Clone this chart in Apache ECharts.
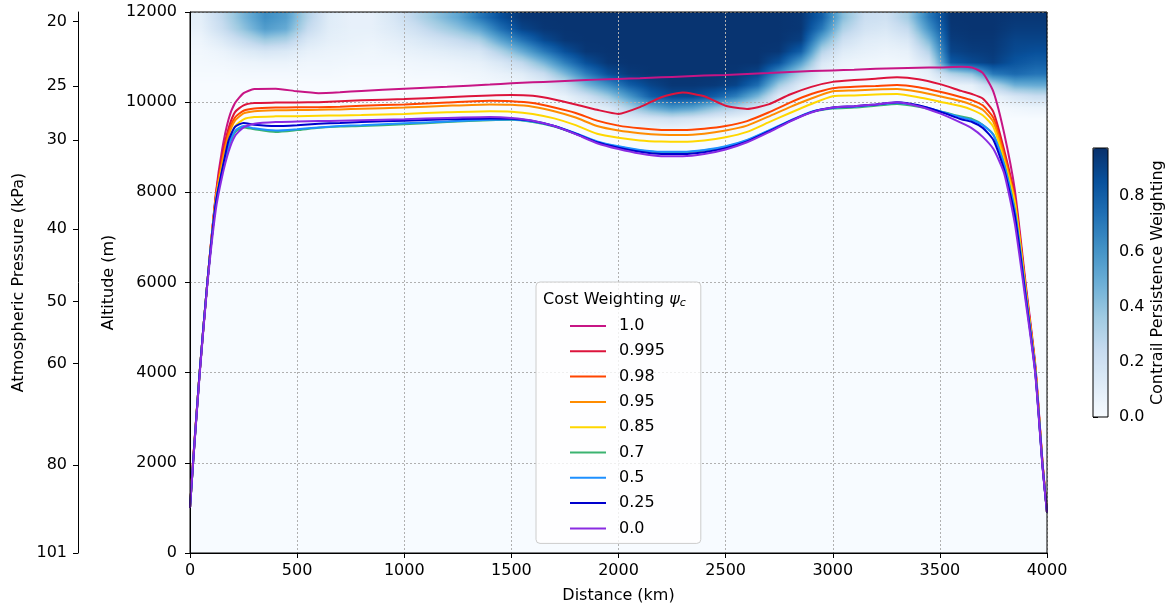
<!DOCTYPE html>
<html>
<head>
<meta charset="utf-8">
<script src="https://cdn.jsdelivr.net/npm/echarts@6/dist/echarts.min.js"></script>
<style>
  html, body { margin: 0; padding: 0; background: #fff; }
  #chart { width: 1174px; height: 610px; }
</style>
</head>
<body>
<div id="chart"></div>
<script>
// ── Flight profiles (altitude in m against distance in km) ──
const distanceKm = [0, 15, 45, 80, 120, 150, 180, 210, 250, 300, 400, 500, 600, 700, 800, 1000, 1200, 1400, 1500, 1600, 1700, 1800, 1900, 2000, 2100, 2200, 2300, 2400, 2500, 2600, 2700, 2800, 2900, 3000, 3100, 3200, 3300, 3400, 3500, 3600, 3650, 3700, 3750, 3800, 3850, 3900, 3945, 3980, 4000];

const alt_1_0 = [1000, 2100, 4000, 5950, 7950, 8950, 9620, 9980, 10200, 10290, 10300, 10240, 10200, 10220, 10250, 10300, 10340, 10390, 10420, 10440, 10460, 10480, 10500, 10515, 10530, 10550, 10570, 10590, 10605, 10625, 10645, 10670, 10690, 10705, 10720, 10740, 10755, 10765, 10770, 10785, 10770, 10650, 10230, 9310, 8050, 6000, 4200, 1960, 900];
const alt_0_995 = [1000, 2080, 4000, 5950, 7900, 8800, 9420, 9780, 9930, 9980, 9990, 9995, 10000, 10020, 10040, 10070, 10110, 10150, 10160, 10140, 10060, 9950, 9830, 9740, 9890, 10110, 10215, 10130, 9920, 9850, 9950, 10170, 10340, 10450, 10490, 10520, 10550, 10510, 10400, 10250, 10180, 10080, 9780, 8940, 7900, 5920, 4150, 1940, 900];
const alt_0_98 = [1000, 2070, 4000, 5950, 7870, 8720, 9330, 9660, 9810, 9860, 9880, 9885, 9890, 9900, 9920, 9950, 9990, 10030, 10020, 9980, 9880, 9760, 9590, 9480, 9420, 9385, 9380, 9410, 9470, 9580, 9770, 9990, 10180, 10310, 10340, 10360, 10380, 10330, 10230, 10110, 10040, 9930, 9650, 8850, 7850, 5880, 4120, 1930, 900];
const alt_0_95 = [1000, 2060, 4000, 5950, 7850, 8660, 9260, 9590, 9750, 9800, 9820, 9825, 9830, 9840, 9855, 9880, 9920, 9950, 9940, 9900, 9800, 9660, 9470, 9370, 9310, 9275, 9270, 9300, 9370, 9480, 9680, 9890, 10080, 10240, 10260, 10280, 10290, 10230, 10130, 10020, 9940, 9830, 9560, 8780, 7800, 5860, 4110, 1920, 900];
const alt_0_85 = [1000, 2050, 4000, 5950, 7800, 8550, 9120, 9460, 9620, 9670, 9685, 9690, 9700, 9705, 9715, 9740, 9775, 9800, 9790, 9740, 9640, 9490, 9300, 9210, 9150, 9125, 9120, 9150, 9220, 9340, 9550, 9760, 9960, 10130, 10150, 10170, 10180, 10110, 10010, 9910, 9830, 9710, 9450, 8700, 7760, 5840, 4100, 1910, 900];
const alt_0_7 = [1000, 2040, 4000, 5950, 7750, 8450, 9000, 9330, 9440, 9400, 9340, 9380, 9430, 9460, 9470, 9510, 9560, 9600, 9610, 9560, 9460, 9300, 9120, 9010, 8930, 8890, 8890, 8930, 9010, 9150, 9360, 9580, 9780, 9860, 9880, 9920, 9960, 9900, 9800, 9680, 9630, 9500, 9280, 8620, 7600, 5760, 4050, 1890, 900];
const alt_0_5 = [1000, 2040, 4000, 5950, 7750, 8470, 9030, 9360, 9470, 9420, 9370, 9400, 9440, 9470, 9490, 9530, 9570, 9610, 9615, 9570, 9470, 9310, 9130, 9020, 8940, 8900, 8900, 8940, 9020, 9160, 9370, 9590, 9790, 9870, 9900, 9940, 9980, 9920, 9800, 9660, 9600, 9490, 9270, 8600, 7570, 5740, 4040, 1885, 900];
const alt_0_25 = [1000, 2040, 4000, 5950, 7750, 8500, 9150, 9450, 9540, 9500, 9470, 9490, 9520, 9540, 9560, 9590, 9620, 9640, 9630, 9580, 9470, 9300, 9110, 8990, 8900, 8850, 8850, 8890, 8980, 9130, 9350, 9580, 9780, 9880, 9910, 9950, 10000, 9930, 9790, 9620, 9560, 9430, 9160, 8500, 7480, 5700, 4020, 1880, 900];
const alt_0_0 = [1000, 2030, 3950, 5900, 7600, 8350, 8900, 9250, 9440, 9520, 9560, 9570, 9580, 9590, 9600, 9620, 9650, 9670, 9650, 9590, 9470, 9290, 9090, 8960, 8860, 8800, 8800, 8850, 8950, 9110, 9330, 9570, 9770, 9880, 9910, 9950, 10000, 9910, 9750, 9540, 9420, 9230, 8960, 8420, 7300, 5600, 3980, 1860, 900];

const weightLabels = ['1.0', '0.995', '0.98', '0.95', '0.85', '0.7', '0.5', '0.25', '0.0'];
const weightColors = ['#C71585', '#DC143C', '#FF4500', '#FF8C00', '#FFD700', '#3CB371', '#1E90FF', '#0000CD', '#8A2BE2'];
const profiles = [alt_1_0, alt_0_995, alt_0_98, alt_0_95, alt_0_85, alt_0_7, alt_0_5, alt_0_25, alt_0_0];

// ── Contrail persistence field, sampled every 100 km x 250 m (rows top -> bottom) ──
const heatDistKm = [50, 150, 250, 350, 450, 550, 650, 750, 850, 950, 1050, 1150, 1250, 1350, 1450, 1550, 1650, 1750, 1850, 1950, 2050, 2150, 2250, 2350, 2450, 2550, 2650, 2750, 2850, 2950, 3050, 3150, 3250, 3350, 3450, 3550, 3650, 3750, 3850, 3950];
const heatAltM = [11875, 11625, 11375, 11125, 10875, 10625, 10375, 10125, 9875, 9625, 9375];
const row_11875 = [.10, .26, .46, .62, .56, .30, .12, .08, .08, .16, .28, .40, .52, .70, .86, .95, .96, .96, .96, .96, .96, .96, .96, .96, .96, .96, .96, .96, .95, .80, .42, .22, .20, .35, .70, .96, .96, .96, .95, .95];
const row_11625 = [.08, .22, .40, .56, .50, .24, .11, .08, .08, .13, .20, .30, .40, .52, .74, .90, .95, .96, .96, .96, .96, .96, .96, .96, .96, .96, .96, .96, .95, .70, .32, .18, .15, .25, .60, .95, .96, .96, .93, .93];
const row_11375 = [.05, .13, .25, .36, .32, .15, .09, .07, .06, .09, .13, .18, .24, .32, .54, .72, .88, .95, .96, .96, .96, .96, .96, .96, .96, .96, .96, .96, .92, .50, .21, .12, .10, .15, .45, .93, .95, .95, .90, .90];
const row_11125 = [.03, .06, .12, .16, .14, .08, .06, .05, .04, .06, .08, .10, .13, .16, .32, .50, .70, .86, .95, .96, .96, .96, .96, .96, .96, .96, .96, .95, .80, .30, .12, .08, .06, .08, .30, .90, .93, .94, .88, .86];
const row_10875 = [.02, .03, .05, .06, .06, .04, .04, .03, .03, .03, .04, .05, .06, .08, .15, .26, .46, .68, .86, .95, .96, .96, .96, .96, .96, .96, .96, .85, .55, .15, .06, .04, .03, .04, .17, .82, .88, .92, .84, .80];
const row_10625 = [.01, .01, .02, .02, .02, .02, .02, .01, .01, .01, .02, .02, .03, .04, .07, .11, .23, .45, .68, .86, .94, .96, .96, .96, .96, .95, .90, .60, .30, .07, .03, .02, .01, .02, .08, .30, .40, .70, .76, .72];
const row_10375 = [0, 0, 0, 0, 0, 0, 0, 0, 0, 0, 0, 0, 0, .02, .03, .04, .09, .21, .45, .62, .80, .90, .95, .95, .94, .90, .74, .35, .12, .03, .01, 0, 0, 0, .03, .06, .08, .28, .48, .50];
const row_10125 = [0, 0, 0, 0, 0, 0, 0, 0, 0, 0, 0, 0, 0, 0, 0, .01, .03, .07, .19, .36, .58, .80, .88, .88, .80, .68, .45, .12, .04, .01, 0, 0, 0, 0, 0, .01, .02, .06, .16, .22];
const row_9875 = [0, 0, 0, 0, 0, 0, 0, 0, 0, 0, 0, 0, 0, 0, 0, 0, 0, .02, .05, .13, .32, .50, .60, .55, .40, .30, .15, .04, .01, 0, 0, 0, 0, 0, 0, 0, 0, .01, .04, .06];
const row_9625 = [0, 0, 0, 0, 0, 0, 0, 0, 0, 0, 0, 0, 0, 0, 0, 0, 0, 0, .01, .04, .11, .16, .20, .16, .10, .06, .03, .01, 0, 0, 0, 0, 0, 0, 0, 0, 0, 0, 0, 0];
const row_9375 = [0, 0, 0, 0, 0, 0, 0, 0, 0, 0, 0, 0, 0, 0, 0, 0, 0, 0, 0, 0, .03, .04, .04, .03, .02, .01, 0, 0, 0, 0, 0, 0, 0, 0, 0, 0, 0, 0, 0, 0];
const heatRows = [row_11875, row_11625, row_11375, row_11125, row_10875, row_10625, row_10375, row_10125, row_9875, row_9625, row_9375];

// ── Axis ticks ──
const pressureTicksKPa = [20, 25, 30, 40, 50, 60, 80, 101.325];
const colorbarTicks = [0, 0.2, 0.4, 0.6, 0.8];
const persistMax = 0.975;
const BLUES = ['#f7fbff', '#deebf7', '#c6dbef', '#9ecae1', '#6baed6', '#4292c6', '#2171b5', '#08519c', '#08306b'];

// ISA standard atmosphere: pressure (kPa) -> altitude (m), for placing the pressure ticks
const pressureToAltitude = (p) => {
  if (p < 22.632) return 11000 + 6341.62 * Math.log(22.632 / p);
  return 44330.8 * (1 - Math.pow(p / 101.325, 0.190263));
};
const pressureTickAlt = pressureTicksKPa.map(pressureToAltitude);

const FONT = 'DejaVu Sans';
const PLOT = { left: 190, top: 12, width: 857, height: 541 };

// Blues colour ramp, same stops as the colour bar
const hexToRgb = (h) => [1, 3, 5].map((i) => parseInt(h.slice(i, i + 2), 16));
const BLUES_RGB = BLUES.map(hexToRgb);
const bluesColor = (v) => {
  const t = Math.min(Math.max(v / persistMax, 0), 1) * (BLUES.length - 1);
  const i = Math.min(Math.floor(t), BLUES.length - 2);
  const f = t - i;
  const a = BLUES_RGB[i];
  const b = BLUES_RGB[i + 1];
  return `rgb(${a.map((c, k) => Math.round(c + (b[k] - c) * f)).join(',')})`;
};

// the field is painted as a smooth raster between the sample points (clamped at the edges)
const nCol = heatDistKm.length;
const nRow = heatAltM.length;
const sample = (c, r) => heatRows[Math.min(Math.max(r, 0), nRow - 1)][Math.min(Math.max(c, 0), nCol - 1)];
const cells = [];
for (let j = 0; j <= nRow; j++) {
  for (let i = 0; i <= nCol; i++) cells.push([i, j]);
}

const renderField = (params, api) => {
  const i = api.value(0);
  const j = api.value(1);
  const xL = i === 0 ? 0 : heatDistKm[i - 1];
  const xR = i === nCol ? 4000 : heatDistKm[i];
  const hT = j === 0 ? 12000 : heatAltM[j - 1];
  const hB = j === nRow ? heatAltM[nRow - 1] - 125 : heatAltM[j];
  const p0 = api.coord([xL, hT]);
  const p1 = api.coord([xR, hB]);
  const TL = sample(i - 1, j - 1), TR = sample(i, j - 1);
  const BL = sample(i - 1, j), BR = sample(i, j);
  const x0 = Math.round(p0[0]);
  const x1 = Math.round(p1[0]);
  const y0 = Math.round(p0[1]);
  const y1 = Math.round(p1[1]);
  const children = [];
  for (let y = y0; y < y1; y++) {
    const t = Math.min(Math.max((y + 0.5 - p0[1]) / (p1[1] - p0[1]), 0), 1);
    const vl = TL + (BL - TL) * t;
    const vr = TR + (BR - TR) * t;
    const stops = [0, 0.25, 0.5, 0.75, 1].map((o) => ({ offset: o, color: bluesColor(vl + (vr - vl) * o) }));
    children.push({
      type: 'rect',
      shape: { x: x0, y, width: x1 - x0, height: 1 },
      style: { fill: { type: 'linear', x: 0, y: 0, x2: 1, y2: 0, colorStops: stops, global: false } },
    });
  }
  return { type: 'group', children, silent: true };
};

const axisText = { color: '#000', fontSize: 16, fontFamily: FONT };
const blackLine = { lineStyle: { color: '#000', width: 1 } };
const plain = (v) => String(v);

const chart = echarts.init(document.getElementById('chart'), null, { renderer: 'canvas' });

const lineSeries = profiles.map((alts, i) => ({
  name: weightLabels[i],
  type: 'line',
  xAxisIndex: 0,
  yAxisIndex: 0,
  data: distanceKm.map((d, k) => [d, alts[k]]),
  showSymbol: false,
  symbol: 'none',
  smooth: 0.2,
  lineStyle: { color: weightColors[i], width: 2 },
  itemStyle: { color: weightColors[i] },
  emphasis: { disabled: true },
  z: 4,
}));

chart.setOption({
  animation: false,
  backgroundColor: '#fff',
  textStyle: { fontFamily: FONT },
  grid: [
    { ...PLOT, show: true, backgroundColor: BLUES[0], borderWidth: 0, outerBoundsMode: 'none', containLabel: false },
    { left: 1093, top: 148, width: 15, height: 269, show: true, backgroundColor: 'transparent', borderColor: '#000', borderWidth: 1, z: 5, outerBoundsMode: 'none', containLabel: false },
    { ...PLOT, show: true, backgroundColor: 'transparent', borderColor: '#000', borderWidth: 1, z: 5, outerBoundsMode: 'none', containLabel: false },
  ],
  xAxis: [
    {
      type: 'value', gridIndex: 0, min: 0, max: 4000, interval: 500, z: 3,
      axisLine: { onZero: false, ...blackLine },
      axisTick: { length: 5, ...blackLine },
      axisLabel: { ...axisText, margin: 10, formatter: plain },
      splitLine: { show: true, lineStyle: { color: '#b0b0b0', width: 1, type: [2, 2] } },
      name: 'Distance (km)', nameLocation: 'middle', nameGap: 35,
      nameTextStyle: { ...axisText },
    },
    { type: 'value', gridIndex: 1, show: false, min: 0, max: 1 },
    { type: 'value', gridIndex: 2, show: false, min: 0, max: 1 },
  ],
  yAxis: [
    {
      type: 'value', gridIndex: 0, min: 0, max: 12000, interval: 2000, position: 'left', z: 3,
      axisLine: { show: true, onZero: false, ...blackLine },
      axisTick: { show: true, length: 5, ...blackLine },
      axisLabel: { ...axisText, margin: 13, formatter: plain },
      splitLine: { show: true, lineStyle: { color: '#b0b0b0', width: 1, type: [2, 2] } },
    },
    {
      type: 'value', gridIndex: 0, min: 0, max: 12000, position: 'left', offset: 112, z: 3,
      axisLine: { show: true, onZero: false, ...blackLine },
      axisTick: { show: true, length: 5, customValues: pressureTickAlt, ...blackLine },
      axisLabel: {
        ...axisText, margin: 11,
        customValues: pressureTickAlt,
        formatter: (v) => {
          let best = 0;
          pressureTickAlt.forEach((a, i) => { if (Math.abs(a - v) < Math.abs(pressureTickAlt[best] - v)) best = i; });
          return String(Math.round(pressureTicksKPa[best]));
        },
      },
      splitLine: { show: false },
    },
    {
      type: 'value', gridIndex: 1, min: 0, max: persistMax, position: 'right',
      axisLine: { show: false },
      axisTick: { show: true, length: 5, customValues: colorbarTicks, ...blackLine },
      axisLabel: { ...axisText, margin: 11, customValues: colorbarTicks, formatter: (v) => v.toFixed(1) },
      splitLine: { show: false },
    },
    { type: 'value', gridIndex: 2, show: false, min: 0, max: 1 },
  ],
  visualMap: {
    type: 'continuous',
    seriesIndex: [],
    min: 0,
    max: persistMax,
    calculable: false,
    hoverLink: false,
    orient: 'vertical',
    left: 1088,
    top: 143,
    padding: 5,
    itemWidth: 15,
    itemHeight: 269,
    inRange: { color: BLUES },
  },
  legend: {
    orient: 'vertical',
    left: 536,
    top: 282,
    padding: [35.5, 36, 6.5, 34],
    itemWidth: 36,
    itemHeight: 2,
    itemGap: 8.3,
    icon: 'rect',
    backgroundColor: 'rgba(255,255,255,0.8)',
    borderColor: '#cccccc',
    borderWidth: 1,
    borderRadius: 4,
    z: 6,
    textStyle: { ...axisText, lineHeight: 17, padding: [0, 0, 0, 8] },
    data: weightLabels,
  },
  title: {
    text: '{t|Cost Weighting }{p|ψ}{s|c}',
    left: 543,
    top: 291,
    padding: 0,
    z: 7,
    textStyle: {
      fontWeight: 'normal',
      rich: {
        t: { fontSize: 16, fontFamily: FONT, fontWeight: 'normal', color: '#000' },
        p: { fontSize: 16, fontFamily: FONT, fontWeight: 'normal', fontStyle: 'italic', color: '#000' },
        s: { fontSize: 11, fontFamily: FONT, fontWeight: 'normal', fontStyle: 'italic', color: '#000', verticalAlign: 'bottom', padding: [7, 0, 0, 0] },
      },
    },
  },
  graphic: [
    { type: 'text', x: 18.5, y: 282.5, rotation: Math.PI / 2, style: { text: 'Atmospheric Pressure (kPa)', align: 'center', verticalAlign: 'middle', font: `16px "${FONT}"`, fill: '#000' } },
    { type: 'text', x: 108.5, y: 282.5, rotation: Math.PI / 2, style: { text: 'Altitude (m)', align: 'center', verticalAlign: 'middle', font: `16px "${FONT}"`, fill: '#000' } },
    { type: 'text', x: 1158, y: 282.7, rotation: Math.PI / 2, style: { text: 'Contrail Persistence Weighting', align: 'center', verticalAlign: 'middle', font: `16px "${FONT}"`, fill: '#000' } },
  ],
  series: [
    {
      type: 'custom',
      xAxisIndex: 0,
      yAxisIndex: 0,
      data: cells,
      renderItem: renderField,
      encode: { x: -1, y: -1 },
      silent: true,
      clip: true,
      z: 1,
    },
    ...lineSeries,
  ],
});

window.addEventListener('resize', () => chart.resize());
</script>
</body>
</html>
